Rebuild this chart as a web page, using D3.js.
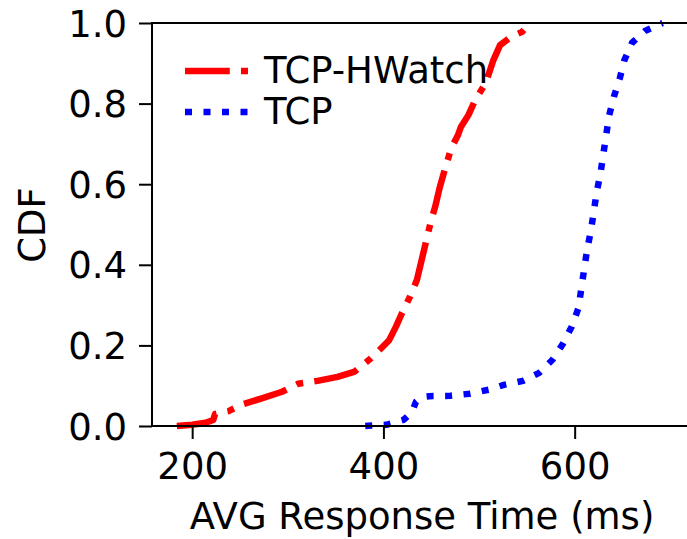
<!DOCTYPE html>
<html>
<head>
<meta charset="utf-8">
<script src="https://cdn.jsdelivr.net/npm/d3@7"></script>
<style>
  body { margin: 0; background: #fff; }
  text { font-family: "DejaVu Sans", sans-serif; fill: #000; }
</style>
</head>
<body>
<div class="cdf"></div>
<script>
// data =================================================== //

var hwatchTime = [184, 200, 214, 222, 224, 238, 254, 272, 294, 311, 331, 352, 370, 387, 399,
  406, 413, 419, 428, 435, 440, 445, 450, 454, 459, 465, 471, 478, 481, 489, 496, 507,
  515, 522, 533, 545, 553];
var hwatchCdf = [0, 0.003, 0.008, 0.015, 0.03, 0.037, 0.055, 0.068, 0.085, 0.105, 0.112, 0.122,
  0.135, 0.168, 0.196, 0.213, 0.246, 0.278, 0.322, 0.362, 0.412, 0.462, 0.511, 0.543,
  0.593, 0.643, 0.69, 0.722, 0.742, 0.772, 0.809, 0.851, 0.908, 0.945, 0.965, 0.978, 1.0];

var tcpTime = [381, 403, 421, 430, 434, 440, 448, 470, 490, 510, 526, 546, 563, 577, 588, 597,
  604, 607, 610, 613, 617, 620, 623, 627, 630, 633, 636, 641, 647, 652, 660, 674, 692];
var tcpCdf = [0, 0.003, 0.015, 0.035, 0.06, 0.072, 0.074, 0.075, 0.08, 0.09, 0.102, 0.112,
  0.132, 0.165, 0.205, 0.247, 0.293, 0.342, 0.39, 0.437, 0.485, 0.532, 0.58, 0.627,
  0.675, 0.722, 0.77, 0.817, 0.861, 0.908, 0.951, 0.981, 1.0];

var xTicks = [200, 400, 600];
var yTicks = [0, 0.2, 0.4, 0.6, 0.8, 1.0];
var seriesNames = ["TCP-HWatch", "TCP"];

// drawing ================================================= //

var width = 687, height = 539;
var fontSize = "37px";
var svg = d3.select(".cdf").append("svg")
  .attr("width", width)
  .attr("height", height);

// axes box runs past the right edge of the picture
var x = d3.scaleLinear().domain([158, 725]).range([152, 694.2]);
var y = d3.scaleLinear().domain([0, 1]).range([426, 23]);

var series = [
  { name: seriesNames[0], xs: hwatchTime, ys: hwatchCdf, color: "#ff0000", dash: "44.8,11.2,7,11.2" },
  { name: seriesNames[1], xs: tcpTime, ys: tcpCdf, color: "#0000ff", dash: "7,11.5" }
];

var line = d3.line()
  .x(function (d) { return x(d[0]); })
  .y(function (d) { return y(d[1]); });

var plot = svg.append("g");
series.forEach(function (s) {
  var pts = s.xs.map(function (v, i) { return [v, s.ys[i]]; });
  plot.append("path")
    .datum(pts)
    .attr("d", line)
    .attr("fill", "none")
    .attr("stroke", s.color)
    .attr("stroke-width", 6.5)
    .attr("stroke-dasharray", s.dash)
    .attr("stroke-linejoin", "round");
});

// spines
var spine = svg.append("g").attr("stroke", "#000").attr("stroke-width", 2);
spine.append("line").attr("x1", x(158)).attr("x2", x(158)).attr("y1", y(0)).attr("y2", y(1));
spine.append("line").attr("x1", x(158) - 1).attr("x2", width).attr("y1", y(1)).attr("y2", y(1));
spine.append("line").attr("x1", x(158) - 1).attr("x2", width).attr("y1", y(0)).attr("y2", y(0));

// x axis
var xAxis = svg.append("g")
  .attr("transform", "translate(0," + y(0) + ")")
  .call(d3.axisBottom(x).tickValues(xTicks).tickSize(13).tickPadding(0).tickFormat(d3.format("d")));
xAxis.select(".domain").remove();
xAxis.selectAll("line").attr("stroke-width", 2);
xAxis.selectAll("text")
  .attr("font-size", fontSize)
  .attr("font-family", "DejaVu Sans")
  .attr("y", 53)
  .attr("dy", 0);

// y axis
var yAxis = svg.append("g")
  .attr("transform", "translate(" + x(158) + ",0)")
  .call(d3.axisLeft(y).tickValues(yTicks).tickSize(13).tickFormat(d3.format(".1f")));
yAxis.select(".domain").remove();
yAxis.selectAll("line").attr("stroke-width", 2);
yAxis.selectAll("text")
  .attr("font-size", fontSize)
  .attr("font-family", "DejaVu Sans")
  .attr("x", -25)
  .attr("dy", 13);

// axis titles
svg.append("text")
  .attr("x", 422)
  .attr("y", 529)
  .attr("text-anchor", "middle")
  .attr("font-size", fontSize)
  .text("AVG Response Time (ms)");

svg.append("text")
  .attr("transform", "translate(45,225) rotate(-90)")
  .attr("text-anchor", "middle")
  .attr("font-size", fontSize)
  .text("CDF");

// legend, no frame
var legend = svg.append("g");
series.forEach(function (s, i) {
  var ly = 71 + i * 41;
  legend.append("line")
    .attr("x1", 185).attr("x2", 251)
    .attr("y1", ly).attr("y2", ly)
    .attr("stroke", s.color)
    .attr("stroke-width", 6.5)
    .attr("stroke-dasharray", s.dash);
  legend.append("text")
    .attr("x", 264)
    .attr("y", ly + 12)
    .attr("font-size", fontSize)
    .text(s.name);
});
</script>
</body>
</html>
